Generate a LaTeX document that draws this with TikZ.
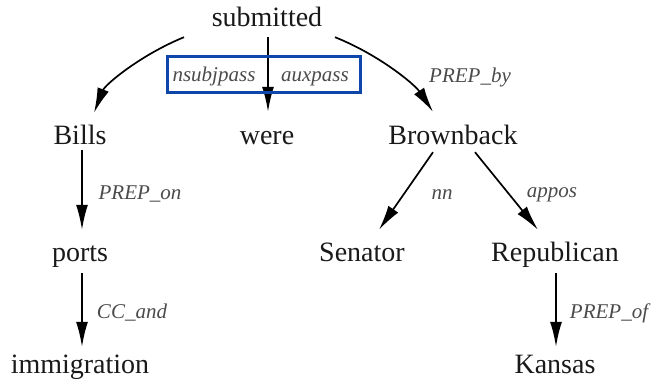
\documentclass[tikz,border=0pt]{standalone}
\usepackage{fontspec}
\setmainfont{Liberation Serif}
\newfontfamily\labfont{LiberationSerif-Italic}[Extension=.ttf]
\usetikzlibrary{arrows.meta,calc}
\definecolor{boxblue}{RGB}{14,70,170}
\definecolor{labgray}{RGB}{75,75,75}
\definecolor{wordblack}{RGB}{25,25,25}
\begin{document}
\begin{tikzpicture}[x=1pt,y=-1pt,
  word/.style={font=\fontsize{28}{30}\selectfont, text=wordblack, inner sep=0pt, text height=20pt, text depth=6pt, anchor=base},
  lbl/.style={font=\labfont\fontsize{21}{23}\selectfont, text=labgray, inner sep=0pt, anchor=base},
  dep/.style={-{Latex[length=25pt,width=12pt]}, line width=1.7pt, draw=black}]
\useasboundingbox (0,0) rectangle (656,387);
% words
\node[word] (sub) at (267,27) {submitted};
\node[word] (bills) at (80,145) {Bills};
\node[word] (were) at (267,145) {were};
\node[word] (bb) at (453,145) {Brownback};
\node[word] (ports) at (80,262) {ports};
\node[word] (sen) at (362,262) {Senator};
\node[word] (rep) at (555,262) {Republican};
\node[word] (imm) at (80,373) {immigration};
\node[word] (kan) at (555,373) {Kansas};
% dependencies
\draw[dep] ($(sub.south)+(-83,4)$) .. controls ($(sub.south)+(-127,22)$) and ($(bills.north)+(25,-40)$) .. ($(bills.north)+(14,-12)$);
\draw[dep] ($(sub.south)+(68,4)$) .. controls ($(sub.south)+(113,22)$) and ($(bb.north)+(-38,-40)$) .. ($(bb.north)+(-20,-13)$);
\draw[dep] ($(sub.south)+(1,4)$) -- ($(were.north)+(1,-13)$);
\draw[dep] ($(bills.south)+(2,-1)$) -- ($(ports.north)+(2,-12)$);
\draw[dep] ($(ports.south)+(2,5)$) -- ($(imm.north)+(2,-6)$);
\draw[dep] ($(bb.south)+(-20,1)$) -- ($(sen.north)+(17,-12)$);
\draw[dep] ($(bb.south)+(22,1)$) -- ($(rep.north)+(-17,-12)$);
\draw[dep] ($(rep.south)+(1,5)$) -- ($(kan.north)+(1,-6)$);
% labels
\node[lbl] (l1) at (214,82) {nsubjpass};
\node[lbl] (l2) at (315,82) {auxpass};
\node[lbl] (l3) at (470,83) {PREP\_by};
\node[lbl] (l4) at (140,200) {PREP\_on};
\node[lbl] (l5) at (132,319) {CC\_and};
\node[lbl] (l6) at (442,200) {nn};
\node[lbl] (l7) at (552,198) {appos};
\node[lbl] (l8) at (609,319) {PREP\_of};
% highlight box
\node[draw=boxblue, line width=3pt, minimum width=193pt, minimum height=36pt, inner sep=0pt] (hl) at (264,74.5) {};
\end{tikzpicture}
\end{document}
